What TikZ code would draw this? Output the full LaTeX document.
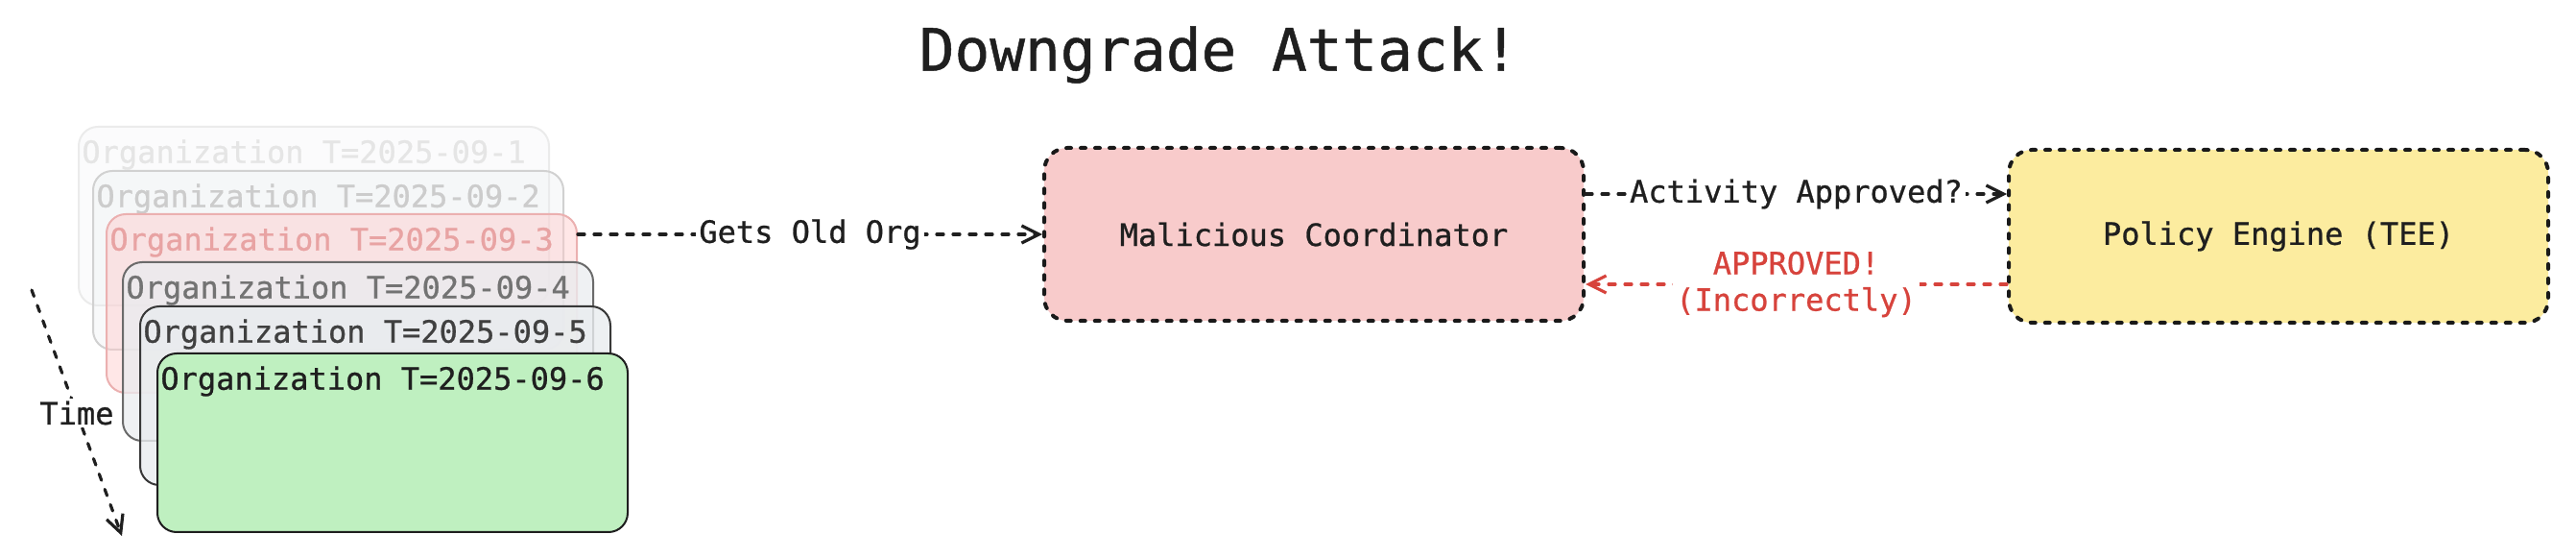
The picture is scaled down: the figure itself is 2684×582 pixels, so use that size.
\documentclass[tikz,border=0pt]{standalone}
\usepackage{fontspec}
\setmainfont[FakeBold=0.8]{DejaVu Sans Mono}
\usetikzlibrary{arrows.meta}

\definecolor{malfill}{HTML}{F8CBCB}
\definecolor{polfill}{HTML}{FCEC9F}
\definecolor{newfill}{HTML}{BFF0C0}
\definecolor{oldgray}{HTML}{E9ECEF}
\definecolor{oldred}{HTML}{FFC9C9}
\definecolor{redline}{HTML}{EBB0B0}
\definecolor{redtext}{HTML}{E8A3A3}
\definecolor{approvered}{HTML}{D7433C}

\begin{document}
\begin{tikzpicture}[x=0.5pt,y=-0.5pt,>={Straight Barb[length=9pt,width=9pt]},
	org/.style={draw,rounded corners=10pt,minimum width=245pt,minimum height=93pt,anchor=north west,line width=1pt},
	orglabel/.style={anchor=north west,inner sep=0pt,font=\fontsize{16}{19}\selectfont},
	actor/.style={draw=black!90,dash pattern=on 2.5pt off 5pt,line cap=round,line width=2pt,rounded corners=12pt,
		minimum width=281pt,minimum height=90pt,text=black!88,font=\fontsize{16}{19}\selectfont},
	flow/.style={dash pattern=on 3.5pt off 5pt,line cap=round,line width=1.6pt,draw=black!88},
	tag/.style={fill=white,inner sep=1.5pt,text=black!88,font=\fontsize{16}{19}\selectfont}]
	\useasboundingbox (0,0) rectangle (2684,582);
	\node[font=\fontsize{30.5}{36}\selectfont,text=black!88] (title) at (1270,57) {Downgrade Attack!};

	\node[org,draw=black!8,fill=oldgray,fill opacity=0.2] (org1) at (81,131) {};
	\node[orglabel,text=black!10] (lab1) at ([shift={(2pt,-7pt)}]org1.north west) {Organization T=2025-09-1};
	\node[org,draw=black!18,fill=oldgray,fill opacity=0.3] (org2) at (96,177) {};
	\node[orglabel,text=black!20] (lab2) at ([shift={(2pt,-7pt)}]org2.north west) {Organization T=2025-09-2};
	\node[org,draw=redline,fill=oldred,fill opacity=0.45] (org3) at (110,222) {};
	\node[orglabel,text=redtext] (lab3) at ([shift={(2pt,-7pt)}]org3.north west) {Organization T=2025-09-3};
	\node[org,draw=black!58,fill=oldgray,fill opacity=0.75] (org4) at (127,272) {};
	\node[orglabel,text=black!55] (lab4) at ([shift={(2pt,-7pt)}]org4.north west) {Organization T=2025-09-4};
	\node[org,draw=black!78,fill=oldgray,fill opacity=0.8] (org5) at (145,318) {};
	\node[orglabel,text=black!75] (lab5) at ([shift={(2pt,-7pt)}]org5.north west) {Organization T=2025-09-5};
	\node[org,draw=black!88,fill=newfill] (org6) at (163,367) {};
	\node[orglabel,text=black!88] (lab6) at ([shift={(2pt,-7pt)}]org6.north west) {Organization T=2025-09-6};

	\node[actor,fill=malfill] (mal) at (1369,244) {Malicious Coordinator};
	\node[actor,fill=polfill] (pol) at (2374,246) {Policy Engine (TEE)};

	\coordinate (past) at (33,302);
	\coordinate (now) at (127,558);
	\coordinate (askout) at ([yshift=21pt]mal.east);
	\coordinate (askin) at (askout -| pol.west);
	\coordinate (replyout) at ([yshift=-25pt]pol.west);
	\coordinate (replyin) at (replyout -| mal.east);

	\draw[flow,->] (past) -- node[tag] {Time} (now);
	\draw[flow,->] (org3.east |- mal.west) -- node[tag] {Gets Old Org} (mal.west);
	\draw[flow,->] (askout) -- node[tag] {Activity Approved?} (askin);
	\draw[flow,->,draw=approvered] (replyout) -- node[tag,text=approvered,align=center] {APPROVED!\\(Incorrectly)} (replyin);
\end{tikzpicture}
\end{document}
